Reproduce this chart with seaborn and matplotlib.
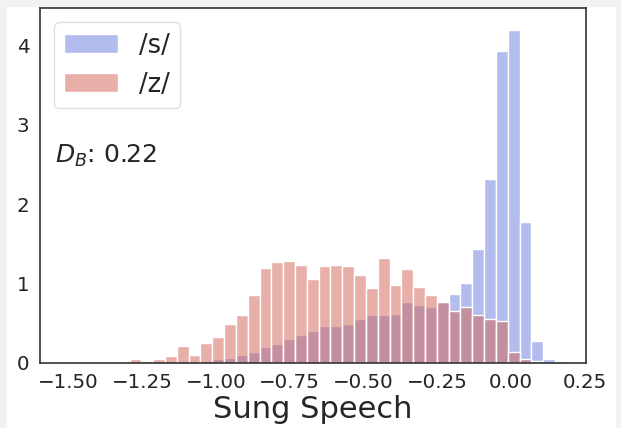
import numpy as np
import pandas as pd
import matplotlib
matplotlib.use('Agg')
import matplotlib.pyplot as plt
from matplotlib.patches import Rectangle
import seaborn as sns

# ---------------------------------------------------------------
# Histogram heights (density), one per bin
# ---------------------------------------------------------------
first_edge = -1.572
bin_width = 0.04

s_density = [0.006, 0.006, 0.006, 0.006, 0.006, 0.006, 0.008,
             0.010, 0.010, 0.015, 0.025, 0.025, 0.012, 0.025, 0.047,
             0.060, 0.100, 0.130, 0.193, 0.235, 0.298, 0.345, 0.400,
             0.467, 0.467, 0.492, 0.555, 0.597, 0.606, 0.618, 0.765,
             0.725, 0.697, 0.768, 0.868, 1.000, 1.440, 2.318, 3.937,
             4.193, 1.770, 0.270, 0.047, 0.020]
z_density = [0.0, 0.0, 0.0, 0.0, 0.0, 0.0, 0.0,
             0.047, 0.018, 0.048, 0.088, 0.206, 0.100, 0.244, 0.324,
             0.488, 0.606, 0.854, 1.195, 1.274, 1.287, 1.235, 1.053,
             1.222, 1.237, 1.224, 1.106, 0.938, 1.323, 0.986, 1.182,
             0.950, 0.858, 0.768, 0.648, 0.698, 0.607, 0.557, 0.531,
             0.138, 0.046, 0.018, 0.0, 0.0]

labels = ['/s/', '/z/']
colors = ['#677ddd', '#d36155']
xlabel = 'Sung Speech'
score_text = r'$D_B$: 0.22'
yticks = [0, 1, 2, 3, 4]

edges = first_edge + bin_width * np.arange(len(s_density) + 1)
centers = (edges[:-1] + edges[1:]) / 2

# ---------------------------------------------------------------
# Plot
# ---------------------------------------------------------------
sns.set_style('white')
plt.rcParams['font.family'] = ['DejaVu Sans']

fig = plt.figure(figsize=(6.21, 4.28), dpi=100, facecolor='#f2f2f2')
fig.patches.append(Rectangle((7 / 621, 0), 609 / 621, 421 / 428,
                             transform=fig.transFigure, facecolor='white',
                             edgecolor='none', zorder=-10))
ax = fig.add_axes([0.0644, 0.1526, 0.8792, 0.828])

for dens, lab, col in zip([s_density, z_density], labels, colors):
    df = pd.DataFrame({'x': centers, 'w': dens})
    sns.histplot(data=df, x='x', weights='w', bins=edges.tolist(),
                 stat='count', color=col, alpha=0.5, edgecolor='white',
                 linewidth=1, label=lab, ax=ax)

ax.set_xlim(-1.595, 0.253)
ax.set_ylim(0, 4.472)
ax.set_yticks(yticks)
ax.set_xticks([-1.5, -1.25, -1.0, -0.75, -0.5, -0.25, 0.0, 0.25])
ax.tick_params(axis='both', labelsize=14.3, pad=4)
ax.set_xlabel(xlabel, fontsize=22, labelpad=2)
ax.set_ylabel('')
for sp in ax.spines.values():
    sp.set_color('#333333')
    sp.set_linewidth(1.2)

ax.legend(loc='upper left', fontsize=18.5, handlelength=2.1,
          handleheight=0.75, borderaxespad=0.55, edgecolor='0.85')
ax.text(0.027, 0.583, score_text, transform=ax.transAxes,
        fontsize=18, va='center', color='#262626')

fig.savefig('out.png', dpi=100, facecolor=fig.get_facecolor())
